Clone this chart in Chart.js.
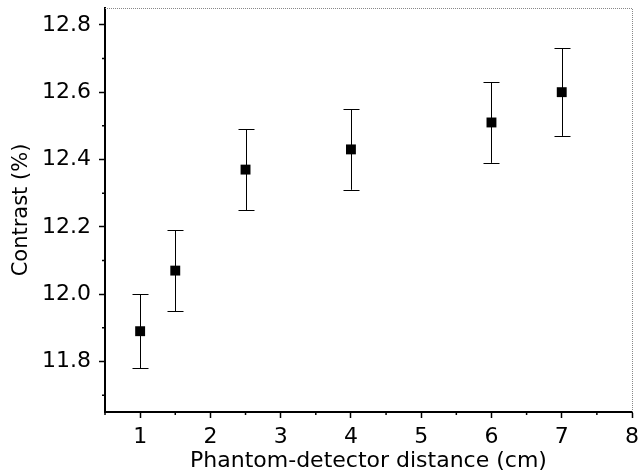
<!DOCTYPE html>
<html>
<head>
    <meta charset="UTF-8">
    <title>Contrast vs distance</title>
    <script src="https://cdn.jsdelivr.net/npm/chart.js"></script>
    <style>
        html, body { margin: 0; padding: 0; background: #ffffff; }
        #wrap { width: 639px; height: 474px; }
    </style>
</head>
<body>
    <div id="wrap"><canvas id="contrastChart" width="639" height="474"></canvas></div>

    <script>
        // values
        var distances = [1, 1.5, 2.5, 4, 6, 7];
        var contrast = [11.89, 12.07, 12.37, 12.43, 12.51, 12.60];
        var errLow = [11.78, 11.95, 12.25, 12.31, 12.39, 12.47];
        var errHigh = [12.00, 12.19, 12.49, 12.55, 12.63, 12.73];

        var xTicks = [1, 2, 3, 4, 5, 6, 7, 8];
        var xMinor = [0.5, 1.5, 2.5, 3.5, 4.5, 5.5, 6.5, 7.5];
        var yTicks = [11.8, 12.0, 12.2, 12.4, 12.6, 12.8];
        var yMinor = [11.7, 11.9, 12.1, 12.3, 12.5, 12.7];

        var points = distances.map(function (d, i) { return { x: d, y: contrast[i] }; });
        var fontFam = 'DejaVu Sans, Liberation Sans, Arial, sans-serif';

        // error bars, minor ticks and the dotted top/right frame
        var extras = {
            id: 'extras',
            afterDatasetsDraw: function (chart) {
                var ctx = chart.ctx;
                var xs = chart.scales.x, ys = chart.scales.y;
                var a = chart.chartArea;
                ctx.save();
                ctx.strokeStyle = '#000';
                ctx.lineWidth = 1;
                distances.forEach(function (d, i) {
                    var px = Math.round(xs.getPixelForValue(d)) + 0.5;
                    var lo = ys.getPixelForValue(errLow[i]);
                    var hi = ys.getPixelForValue(errHigh[i]);
                    ctx.beginPath();
                    ctx.moveTo(px, lo); ctx.lineTo(px, hi);
                    ctx.moveTo(px - 8, Math.round(lo) + 0.5); ctx.lineTo(px + 8, Math.round(lo) + 0.5);
                    ctx.moveTo(px - 8, Math.round(hi) + 0.5); ctx.lineTo(px + 8, Math.round(hi) + 0.5);
                    ctx.stroke();
                });
                // minor ticks
                ctx.lineWidth = 1.5;
                ctx.beginPath();
                yMinor.forEach(function (v) {
                    var py = ys.getPixelForValue(v);
                    ctx.moveTo(a.left, py); ctx.lineTo(a.left - 3, py);
                });
                xMinor.forEach(function (v) {
                    var px = xs.getPixelForValue(v);
                    ctx.moveTo(px, a.bottom); ctx.lineTo(px, a.bottom + 3);
                });
                ctx.stroke();
                // dotted frame
                ctx.strokeStyle = '#888';
                ctx.lineWidth = 1;
                ctx.setLineDash([1, 1]);
                ctx.beginPath();
                ctx.moveTo(a.left, a.top + 0.5); ctx.lineTo(a.right + 0.5, a.top + 0.5);
                ctx.lineTo(a.right + 0.5, a.bottom);
                ctx.stroke();
                ctx.restore();
            }
        };

        var ctx = document.getElementById('contrastChart').getContext('2d');
        var chart = new Chart(ctx, {
            type: 'scatter',
            data: {
                datasets: [{
                    label: 'Contrast',
                    data: points,
                    pointStyle: 'rect',
                    pointRadius: 7,
                    pointHoverRadius: 7,
                    backgroundColor: '#000',
                    borderColor: '#000',
                    borderWidth: 0
                }]
            },
            options: {
                responsive: false,
                animation: false,
                plugins: { legend: { display: false }, tooltip: { enabled: false } },
                layout: { padding: { top: 8, right: 7, left: 0, bottom: 0 } },
                scales: {
                    x: {
                        type: 'linear',
                        min: 0.5,
                        max: 8,
                        afterBuildTicks: function (s) { s.ticks = xTicks.map(function (v) { return { value: v }; }); },
                        afterFit: function (s) { s.height = 62; s.paddingLeft = 0; s.paddingRight = 0; },
                        ticks: {
                            color: '#000',
                            font: { family: fontFam, size: 22 },
                            padding: 6,
                            maxRotation: 0
                        },
                        grid: { drawOnChartArea: false, tickLength: 6, tickWidth: 1.5, tickColor: '#000' },
                        border: { display: true, color: '#000', width: 2 },
                        title: {
                            display: true,
                            text: 'Phantom-detector distance (cm)',
                            color: '#000',
                            font: { family: fontFam, size: 22 },
                            padding: { top: 0, bottom: 0 }
                        }
                    },
                    y: {
                        type: 'linear',
                        min: 11.65,
                        max: 12.85,
                        afterBuildTicks: function (s) { s.ticks = yTicks.map(function (v) { return { value: v }; }); },
                        afterFit: function (s) { s.width = 105; s.paddingTop = 0; s.paddingBottom = 0; },
                        ticks: {
                            color: '#000',
                            font: { family: fontFam, size: 22 },
                            padding: 8,
                            callback: function (v) { return v.toFixed(1); }
                        },
                        grid: { drawOnChartArea: false, tickLength: 6, tickWidth: 1.5, tickColor: '#000' },
                        border: { display: true, color: '#000', width: 2 },
                        title: {
                            display: true,
                            text: 'Contrast (%)',
                            color: '#000',
                            font: { family: fontFam, size: 21 },
                            padding: { top: 9, bottom: 0 }
                        }
                    }
                }
            },
            plugins: [extras]
        });
    </script>
</body>
</html>
